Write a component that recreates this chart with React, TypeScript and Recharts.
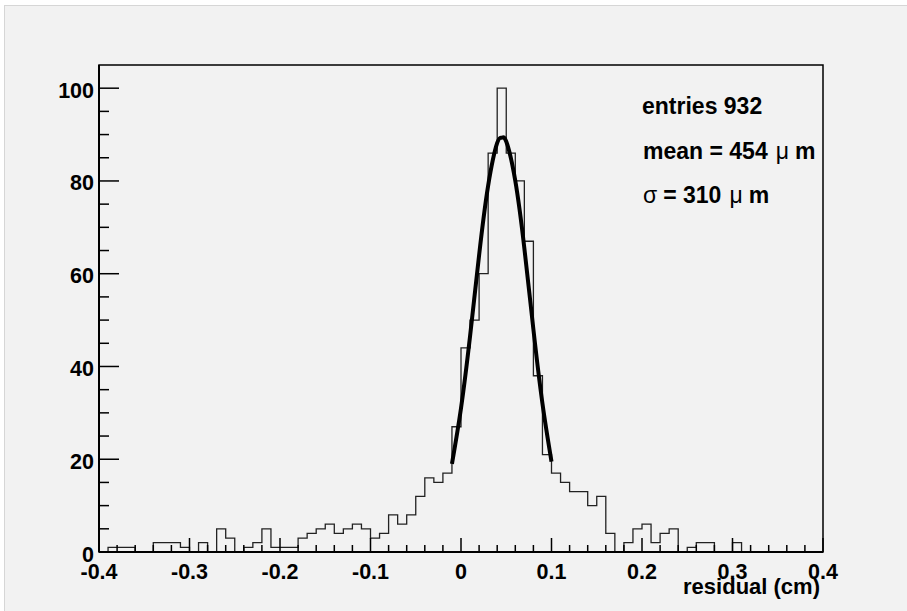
import React from "react";
import {
  ComposedChart,
  Line,
  XAxis,
  YAxis,
  ReferenceArea,
} from "recharts";

// histogram: 80 bins of 0.01 cm from -0.4 to 0.4
const binStart = -0.4;
const binWidth = 0.01;
const binCounts = [
  0, 1, 1, 1, 0, 0, 2, 2, 2, 1, // -0.40 .. -0.31
  0, 2, 0, 5, 3, 0, 1, 2, 5, 1, // -0.30 .. -0.21
  1, 1, 3, 4, 5, 6, 4, 5, 6, 5, // -0.20 .. -0.11
  3, 4, 8, 6, 8, 12, 16, 15, 17, 27, // -0.10 .. -0.01
  44, 50, 60, 86, 100, 86, 80, 67, 38, 21, // 0.00 .. 0.09
  17, 15, 13, 13, 10, 12, 4, 0, 2, 5, // 0.10 .. 0.19
  6, 2, 4, 5, 0, 1, 2, 2, 0, 0, // 0.20 .. 0.29
  2, 0, 0, 0, 0, 0, 0, 0, 0, 0, // 0.30 .. 0.39
];

// gaussian fit
const fitX = [-0.01, 0, 0.01, 0.02, 0.03, 0.04, 0.045, 0.05, 0.06, 0.07, 0.08, 0.09, 0.1];
const fitY = [19, 31, 46.5, 64, 79, 88.2, 89.3, 88.5, 80, 65.5, 48, 32, 19.5];

const xMajorTicks = [-0.4, -0.3, -0.2, -0.1, 0, 0.1, 0.2, 0.3, 0.4];
const yMajorTicks = [0, 20, 40, 60, 80, 100];

const statLines = ["entries 932", "mean = 454", "= 310"];

const FONT = "'Liberation Sans', Arial, Helvetica, sans-serif";

const histData = [
  ...binCounts.map((c, i) => ({ x: +(binStart + i * binWidth).toFixed(2), count: c })),
  { x: 0.4, count: binCounts[binCounts.length - 1] },
];
const fitData = fitX.map((x, i) => ({ x, fit: fitY[i] }));

// minor ticks: x every 0.02, y every 5
const xTicks: number[] = [];
for (let i = 0; i <= 40; i++) xTicks.push(+(-0.4 + i * 0.02).toFixed(2));
const yTicks: number[] = [];
for (let i = 0; i <= 20; i++) yTicks.push(i * 5);

const isXMajor = (v: number) => xMajorTicks.some((m) => Math.abs(m - v) < 1e-6);
const fmtX = (v: number) => (Math.abs(v) < 1e-9 ? "0" : v.toFixed(1));

const renderXTick = (props: any) => {
  const { x, y, payload } = props;
  const v = payload.value;
  const major = isXMajor(v);
  return (
    <g key={`xt-${v}`}>
      <line x1={x} x2={x} y1={y} y2={y - (major ? 14 : 7)} stroke="#000" strokeWidth={1.5} />
      {major && (
        <text x={x} y={y + 27} textAnchor="middle" fontFamily={FONT} fontWeight="bold" fontSize={21.5} fill="#000">
          {fmtX(v)}
        </text>
      )}
    </g>
  );
};

const renderYTick = (props: any) => {
  const { x, y, payload } = props;
  const v = payload.value;
  const major = yMajorTicks.includes(v);
  return (
    <g key={`yt-${v}`}>
      <line x1={x} x2={x + (major ? 20 : 10)} y1={y} y2={y} stroke="#000" strokeWidth={1.5} />
      {major && (
        <text x={x - 5} y={y + 9.5} textAnchor="end" fontFamily={FONT} fontWeight="bold" fontSize={21.5} fill="#000">
          {v}
        </text>
      )}
    </g>
  );
};

export default function App() {
  return (
    <div style={{ position: "absolute", left: 0, top: 0, width: 907, height: 611, background: "#fff", overflow: "hidden" }}>
      <div
        style={{
          position: "absolute",
          left: 4,
          top: 5,
          right: 0,
          bottom: 0,
          background: "#f2f2f2",
          borderTop: "1px solid #d6d6d6",
          borderLeft: "1px solid #d6d6d6",
        }}
      />
      <div style={{ position: "absolute", left: 0, top: 0 }}>
        <ComposedChart width={907} height={611} margin={{ top: 65, right: 84, bottom: 29, left: 59 }}>
          <XAxis
            type="number"
            dataKey="x"
            domain={[-0.4, 0.4]}
            allowDataOverflow
            ticks={xTicks}
            interval={0}
            tickSize={0}
            tickMargin={0}
            tick={renderXTick}
            axisLine={{ stroke: "#000", strokeWidth: 2 }}
            height={30}
          />
          <YAxis
            type="number"
            domain={[0, 105]}
            allowDataOverflow
            ticks={yTicks}
            interval={0}
            tickSize={0}
            tickMargin={0}
            tick={renderYTick}
            axisLine={{ stroke: "#000", strokeWidth: 2 }}
            width={40}
          />
          <ReferenceArea x1={-0.4} x2={0.4} y1={0} y2={105} fill="none" fillOpacity={0} stroke="#000" strokeWidth={1.5} />
          <Line
            data={histData}
            dataKey="count"
            type="stepAfter"
            stroke="#222"
            strokeWidth={1.3}
            dot={false}
            activeDot={false}
            isAnimationActive={false}
          />
          <Line
            data={fitData}
            dataKey="fit"
            type="natural"
            stroke="#000"
            strokeWidth={4}
            dot={false}
            activeDot={false}
            isAnimationActive={false}
          />
        </ComposedChart>
      </div>
      <svg width={907} height={611} style={{ position: "absolute", left: 0, top: 0, pointerEvents: "none" }}>
        <g fontFamily={FONT} fontWeight="bold" fontSize={23} fill="#000">
          <text x={642} y={113.5}>{statLines[0]}</text>
          <text x={643} y={158.5}>
            {statLines[1]}
            <tspan fontWeight="normal" dx={8}>μ</tspan>
            <tspan dx={6}>m</tspan>
          </text>
          <text x={643} y={203}>
            <tspan fontWeight="normal">σ</tspan>
            <tspan dx={6}>{statLines[2]}</tspan>
            <tspan fontWeight="normal" dx={8}>μ</tspan>
            <tspan dx={6}>m</tspan>
          </text>
        </g>
        <text x={820} y={594} textAnchor="end" fontFamily={FONT} fontWeight="bold" fontSize={22} fill="#000">
          residual (cm)
        </text>
      </svg>
    </div>
  );
}
